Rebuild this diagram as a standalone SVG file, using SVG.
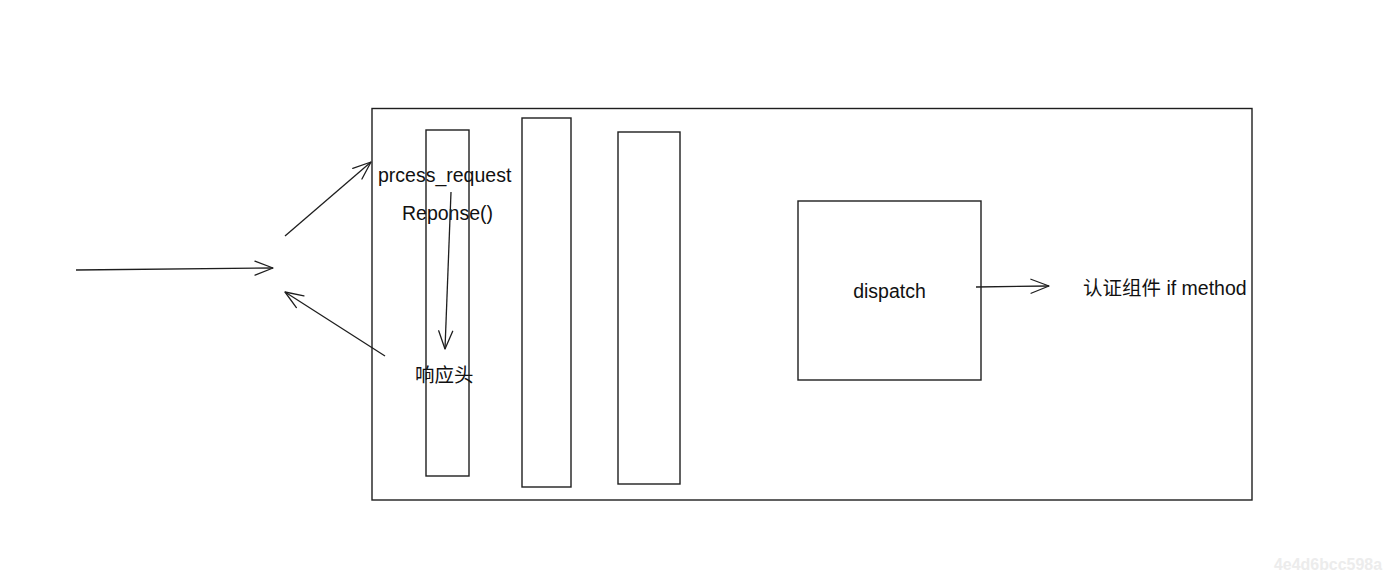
<svg xmlns="http://www.w3.org/2000/svg" width="1391" height="581" viewBox="0 0 1391 581">
<style>
.box{fill:none;stroke:#1e1e1e;stroke-width:1.4}
.ln{fill:none;stroke:#1e1e1e;stroke-width:1.3;marker-end:url(#ah)}
.t{font-family:"Liberation Sans","Noto Sans CJK SC",sans-serif;font-size:19.5px;fill:#111111}
.wm{font-family:"Liberation Sans Narrow","Liberation Sans",sans-serif;font-size:16px;fill:#ececec;font-weight:bold}
</style>
<defs>
<marker id="ah" markerUnits="userSpaceOnUse" viewBox="-20 -10 22 20" refX="0" refY="0" markerWidth="22" markerHeight="20" orient="auto" overflow="visible">
<path d="M-18,-7 L0,0 L-18,7" fill="none" stroke="#1e1e1e" stroke-width="1.3" stroke-linecap="round" stroke-linejoin="round"/>
</marker>
</defs>
<rect width="1391" height="581" fill="#ffffff"/>
<g id="container"><rect class="box" x="372" y="108.5" width="880" height="391.5"/></g>
<g id="pillar1"><rect class="box" x="426" y="130" width="43" height="346"/></g>
<g id="pillar2"><rect class="box" x="522" y="118" width="49" height="369"/></g>
<g id="pillar3"><rect class="box" x="618" y="132" width="62" height="352"/></g>
<g id="dispatch"><rect class="box" x="798" y="201" width="183" height="179"/><text class="t" x="889.5" y="298" text-anchor="middle">dispatch</text></g>
<g id="label-process"><text class="t" x="378" y="182">prcess_request</text></g>
<g id="label-response"><text class="t" x="402" y="220">Reponse()</text></g>
<g id="label-header"><text class="t" x="415" y="382">响应头</text></g>
<g id="label-auth"><text class="t" x="1083" y="295">认证组件 if method</text></g>
<g id="connectors">
<line class="ln" x1="76" y1="270" x2="273" y2="268"/>
<line class="ln" x1="285" y1="236" x2="371" y2="162"/>
<line class="ln" x1="385" y1="356" x2="285" y2="292"/>
<line class="ln" x1="451" y1="192" x2="445" y2="349"/>
<line class="ln" x1="976" y1="287" x2="1049" y2="286"/>
</g>
<text class="wm" x="1274" y="570" textLength="108" lengthAdjust="spacingAndGlyphs">4e4d6bcc598a</text>
</svg>
